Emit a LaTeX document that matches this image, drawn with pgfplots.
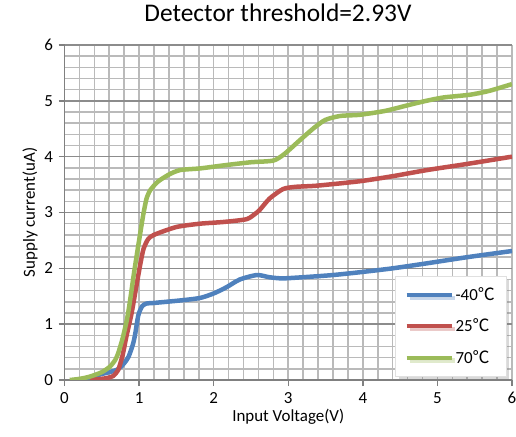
\documentclass[border=0pt]{standalone}
\usepackage{fontspec}
\setmainfont{Carlito}
\newfontfamily\cjk{Noto Sans CJK SC}
\usepackage{pgfplots}
\pgfplotsset{compat=1.18}
\usetikzlibrary{shadows}
\definecolor{cblue}{RGB}{79,129,189}
\definecolor{cred}{RGB}{192,80,77}
\definecolor{cgreen}{RGB}{155,187,89}
\begin{document}
\begin{tikzpicture}
\begin{axis}[
  scale only axis,
  width=447.5bp, height=335bp,
  xmin=0, xmax=6, ymin=0, ymax=6,
  xtick={0,1,2,3,4,5,6}, ytick={0,1,2,3,4,5,6},
  minor x tick num=4, minor y tick num=4,
  grid=both,
  major x grid style={black!27, line width=1.6bp},
  major y grid style={black!45, line width=1.6bp},
  minor grid style={black!27, line width=1.6bp},
  axis x line*=bottom, axis y line*=left,
  axis line style={black!50, line width=1.6bp, -},
  tick align=outside,
  major tick length=6bp, minor tick length=0bp,
  tick style={black!50, line width=1.4bp},
  /pgf/number format/assume math mode=true,
  tick label style={font=\fontsize{17}{20}\selectfont, text=black},
  xticklabel style={yshift=-3bp},
  yticklabel style={xshift=-2bp},
  label style={font=\fontsize{17}{20}\selectfont},
  xlabel={Input Voltage(V)},
  xlabel style={yshift=2bp},
  ylabel={Supply current(uA)},
  title={Detector threshold=2.93V},
  title style={at={(0.477,1)}, anchor=base, yshift=18bp, font=\fontsize{25.5}{30}\selectfont},
  legend cell align=left,
  legend image code/.code={\draw[#1, line width=4bp] (0bp,0bp) -- (45bp,0bp);},
  legend style={at={(0.9866,0.012)}, anchor=south east, draw=black!12, fill=white,
    drop shadow={shadow xshift=3bp, shadow yshift=-3bp, opacity=0.3},
    font=\fontsize{17}{20}\selectfont, row sep=13bp, inner xsep=9bp, inner ysep=9bp},
]
\addplot[cblue, line width=4.5bp, smooth, tension=0.4] coordinates {
(0.2,0) (0.48,0.1) (0.70,0.18) (0.80,0.3) (0.86,0.42) (0.92,0.65) (0.95,0.84) (0.99,1.16) (1.04,1.32) (1.10,1.37) (1.2,1.38) (1.59,1.43) (1.82,1.47) (2.0,1.55) (2.17,1.66) (2.35,1.8) (2.58,1.88) (2.75,1.84) (2.93,1.82) (3.3,1.85) (3.6,1.88) (3.96,1.93) (4.4,2.0) (4.86,2.09) (5.4,2.2) (6.0,2.31)
};
\addlegendentry{-40{\cjk ℃}}
\addplot[cred, line width=4.5bp, smooth, tension=0.4] coordinates {
(0.34,0) (0.55,0.03) (0.65,0.07) (0.72,0.18) (0.78,0.45) (0.83,0.78) (0.90,1.2) (0.97,1.73) (1.02,2.1) (1.06,2.35) (1.12,2.52) (1.2,2.6) (1.5,2.74) (1.82,2.80) (2.13,2.83) (2.44,2.88) (2.56,2.98) (2.62,3.05) (2.75,3.25) (2.93,3.42) (3.1,3.46) (3.38,3.48) (3.96,3.56) (4.4,3.65) (4.86,3.76) (5.4,3.87) (6.0,4.0)
};
\addlegendentry{25{\cjk ℃}}
\addplot[cgreen, line width=4.5bp, smooth, tension=0.4] coordinates {
(0.07,0) (0.2,0.02) (0.34,0.06) (0.5,0.14) (0.61,0.24) (0.68,0.36) (0.72,0.48) (0.78,0.75) (0.84,1.1) (0.88,1.43) (0.93,1.9) (0.98,2.33) (1.03,2.75) (1.06,2.99) (1.1,3.25) (1.15,3.40) (1.25,3.55) (1.4,3.68) (1.55,3.76) (1.82,3.79) (2.17,3.85) (2.5,3.90) (2.80,3.93) (2.95,4.05) (3.16,4.30) (3.35,4.52) (3.5,4.66) (3.7,4.73) (3.96,4.75) (4.3,4.82) (4.63,4.93) (4.85,5.0) (5.08,5.06) (5.44,5.11) (5.7,5.18) (6.0,5.30)
};
\addlegendentry{70{\cjk ℃}}
\end{axis}
\pgfresetboundingbox
\path (-64.5bp,-57bp) rectangle (451.5bp,380bp);
\end{tikzpicture}
\end{document}
